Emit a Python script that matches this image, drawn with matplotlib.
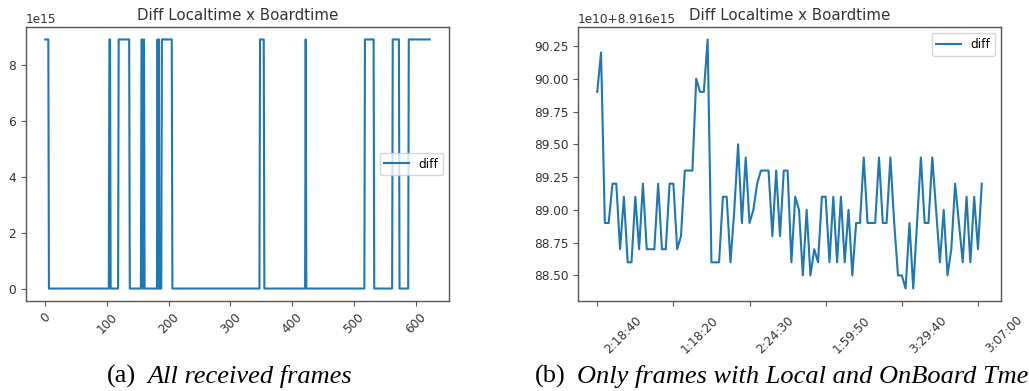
import numpy as np
import matplotlib
matplotlib.use('Agg')
import matplotlib.pyplot as plt
from matplotlib.transforms import ScaledTranslation

# (a) all received frames: 624 samples, either ~8.9169e15 or ~0
n_frames = 624
high_value = 8.9169e15
low_value = 0.0
# runs of frame indexes (first, last) that sit on the high value
high_runs = [(0, 5), (104, 105), (119, 136), (156, 157), (160, 160),
             (182, 182), (184, 184), (189, 205), (348, 354), (422, 422),
             (518, 532), (563, 573), (589, 623)]

# (b) only frames with local and onboard time, in 1e10 above 8.916e15
offset_b = 8.916e15
scale_b = 1e10
diff_b = [89.9, 90.2, 88.9, 88.9, 89.2, 89.2, 88.7, 89.1, 88.6, 88.6,
          89.1, 88.7, 89.2, 88.7, 88.7, 88.7, 89.2, 88.7, 88.7, 89.2,
          89.2, 88.7, 88.8, 89.3, 89.3, 89.3, 90.0, 89.9, 89.9, 90.3,
          88.6, 88.6, 88.6, 89.1, 89.1, 88.6, 89.0, 89.5, 88.9, 89.4,
          88.9, 89.0, 89.2, 89.3, 89.3, 89.3, 88.8, 89.3, 88.8, 89.3,
          89.3, 88.6, 89.1, 89.0, 88.5, 89.0, 88.5, 88.7, 88.6, 89.1,
          89.1, 88.6, 89.1, 88.6, 89.1, 88.6, 89.0, 88.5, 88.9, 88.9,
          89.4, 88.9, 88.9, 88.9, 89.4, 88.9, 88.9, 89.4, 88.9, 88.5,
          88.5, 88.4, 88.9, 88.4, 88.9, 89.4, 88.9, 88.9, 89.4, 89.0,
          88.6, 89.0, 88.5, 88.7, 89.2, 88.9, 88.6, 89.1, 88.6, 89.1,
          88.7, 89.2]
tick_pos_b = [0, 20, 40, 60, 80, 100]
# only the visible tail of each time label
tick_labels_b = ['2:18:40', '1:18:20', '2:24:30', '1:59:50', '3:29:40', '3:07:00']

title = 'Diff Localtime x Boardtime'
line_color = '#1f77b4'
frame_color = '#555555'
text_color = '#333333'

plt.rcParams['font.family'] = 'DejaVu Sans'
plt.rcParams['font.size'] = 8.7

W, H = 1029, 391
fig = plt.figure(figsize=(W / 100, H / 100), dpi=100)
fig.patch.set_facecolor('white')

# axes boxes placed in pixels
ax1 = fig.add_axes([26 / W, (H - 301) / H, 423 / W, 274 / H])
ax2 = fig.add_axes([578 / W, (H - 301) / H, 423 / W, 274 / H])

diff_a = np.full(n_frames, low_value)
for first, last in high_runs:
    diff_a[first:last + 1] = high_value

ax1.plot(np.arange(n_frames), diff_a, color=line_color, lw=1.5, label='diff')
ax1.legend(loc='center right')
ax1.tick_params(axis='x', labelrotation=45)

y_b = np.array(diff_b) * scale_b + offset_b
ax2.plot(np.arange(len(diff_b)), y_b, color=line_color, lw=1.5, label='diff')
ax2.set_xticks(tick_pos_b)
ax2.set_xticklabels(tick_labels_b, rotation=45, ha='left')
shift = ScaledTranslation(5 / 100, -3 / 100, fig.dpi_scale_trans)
for lab in ax2.get_xticklabels():
    lab.set_transform(lab.get_transform() + shift)
ax2.legend(loc='upper right')

for ax in (ax1, ax2):
    ax.set_title(title, fontsize=10.8, color=text_color, pad=5)
    ax.tick_params(colors=frame_color, labelcolor=text_color, labelsize=8.7)
    ax.yaxis.get_offset_text().set_color(text_color)
    for s in ax.spines.values():
        s.set_color(frame_color)
        s.set_linewidth(1.0)

cap_y = (H - 383) / H
cap_kw = dict(family='Liberation Serif', fontsize=19, va='baseline')
fig.text(107 / W, cap_y, '(a)', **cap_kw)
fig.text(147 / W, cap_y, 'All received frames', style='italic', **cap_kw)
fig.text(535 / W, cap_y, '(b)', **cap_kw)
fig.text(577 / W, cap_y, 'Only frames with Local and OnBoard Tme', style='italic', **cap_kw)

fig.savefig('out.png', dpi=100)
